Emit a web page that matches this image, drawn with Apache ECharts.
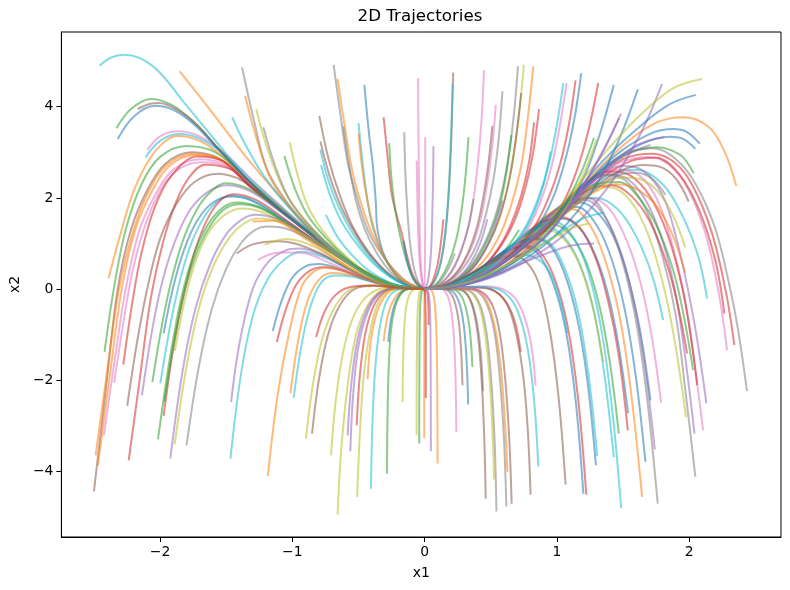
<!DOCTYPE html>
<html>
<head>
<meta charset="utf-8">
<title>2D Trajectories</title>
<script src="https://cdn.jsdelivr.net/npm/echarts@6/dist/echarts.min.js"></script>
<style>
html, body { margin: 0; padding: 0; background: #fff; }
#chart { width: 790px; height: 590px; }
</style>
</head>
<body>
<div id="chart"></div>
<script>
var xTicks = [-2, -1, 0, 1, 2];
var yTicks = [-4, -2, 0, 2, 4];

var leftArcs = [
  [-2.50,-4.44,-2.41,-2.2,-2.32,0,-2.22,1.3,-2.1,2.15,-1.96,2.75,-1.76,3.0,-1.55,2.86,-1.34,2.3,-1.1,1.75,-0.86,1.2,-0.55,0.55,-0.27,0.12,0,0],
  [-2.487,-3.65,-2.4,-1.8,-2.31,0,-2.2,1.3,-2.09,2.12,-1.95,2.72,-1.75,2.97,-1.54,2.83,-1.33,2.28,-1.09,1.73,-0.85,1.18,-0.55,0.54,-0.27,0.12,0,0],
  [-2.47,-3.87,-2.38,-1.9,-2.29,0,-2.19,1.28,-2.07,2.1,-1.93,2.7,-1.73,2.94,-1.52,2.8,-1.32,2.26,-1.08,1.71,-0.84,1.17,-0.55,0.54,-0.27,0.12,0,0],
  [-2.425,-3.21,-2.34,-1.5,-2.26,0,-2.16,1.25,-2.04,2.05,-1.9,2.62,-1.7,2.85,-1.5,2.72,-1.3,2.2,-1.07,1.67,-0.84,1.15,-0.55,0.53,-0.27,0.12,0,0],
  [-2.42,-1.38,-2.35,0,-2.26,1.3,-2.14,2.3,-2.0,2.9,-1.8,3.14,-1.58,3.0,-1.36,2.45,-1.12,1.85,-0.87,1.25,-0.56,0.57,-0.28,0.13,0,0],
  [-2.347,-2.06,-2.27,-0.6,-2.2,0.5,-2.1,1.5,-1.98,2.25,-1.85,2.65,-1.68,2.78,-1.48,2.66,-1.28,2.16,-1.06,1.64,-0.83,1.13,-0.54,0.52,-0.27,0.12,0,0],
  [-2.278,-1.66,-2.21,-0.3,-2.14,0.8,-2.04,1.8,-1.91,2.5,-1.72,2.91,-1.52,2.8,-1.32,2.25,-1.08,1.7,-0.85,1.17,-0.55,0.54,-0.27,0.12,0,0],
  [-2.237,-3.76,-2.15,-1.9,-2.07,-0.2,-1.98,1.0,-1.88,1.9,-1.78,2.45,-1.66,2.73,-1.46,2.62,-1.26,2.12,-1.04,1.6,-0.82,1.1,-0.54,0.5,-0.27,0.11,0,0],
  [-2.248,-2.56,-2.17,-1.1,-2.09,0.1,-2.0,1.1,-1.88,1.85,-1.74,2.35,-1.56,2.53,-1.38,2.38,-1.15,1.9,-0.9,1.3,-0.6,0.62,-0.3,0.14,0,0],
  [-2.137,-2.33,-2.06,-0.9,-1.98,0.2,-1.88,1.1,-1.77,1.75,-1.63,2.15,-1.49,2.28,-1.32,2.15,-1.1,1.72,-0.86,1.2,-0.57,0.57,-0.28,0.13,0,0],
  [-2.058,-2.04,-1.98,-0.7,-1.9,0.35,-1.81,1.2,-1.7,1.85,-1.6,2.18,-1.51,2.32,-1.33,2.2,-1.1,1.75,-0.87,1.22,-0.57,0.57,-0.28,0.13,0,0],
  [-1.998,-2.07,-1.92,-0.75,-1.84,0.3,-1.75,1.1,-1.64,1.7,-1.54,1.98,-1.45,2.05,-1.28,1.92,-1.05,1.5,-0.8,1.0,-0.52,0.47,-0.26,0.11,0,0],
  [-1.973,-0.97,-1.9,0.05,-1.82,0.85,-1.72,1.5,-1.6,1.9,-1.46,2.03,-1.3,1.93,-1.07,1.52,-0.81,1.02,-0.53,0.48,-0.26,0.11,0,0],
  [-1.973,-2.78,-1.9,-1.3,-1.82,-0.1,-1.73,0.9,-1.63,1.6,-1.53,1.98,-1.44,2.08,-1.27,1.95,-1.05,1.52,-0.8,1.0,-0.52,0.47,-0.26,0.11,0,0],
  [-2.016,-3.30,-1.93,-1.6,-1.84,-0.2,-1.74,0.8,-1.63,1.45,-1.52,1.8,-1.42,1.9,-1.25,1.8,-1.03,1.42,-0.79,0.95,-0.51,0.45,-0.25,0.1,0,0],
  [-1.968,-2.48,-1.89,-1.1,-1.81,0.0,-1.71,0.9,-1.6,1.48,-1.5,1.78,-1.4,1.86,-1.23,1.76,-1.02,1.4,-0.78,0.94,-0.5,0.44,-0.25,0.1,0,0],
  [-1.888,-1.36,-1.81,-0.2,-1.72,0.7,-1.62,1.3,-1.5,1.65,-1.38,1.77,-1.22,1.68,-1.0,1.34,-0.76,0.9,-0.49,0.42,-0.24,0.1,0,0],
  [-1.923,-3.72,-1.83,-1.8,-1.73,-0.4,-1.62,0.55,-1.5,1.2,-1.38,1.53,-1.28,1.63,-1.12,1.54,-0.92,1.22,-0.7,0.82,-0.45,0.37,-0.22,0.08,0,0],
  [-1.89,-3.41,-1.8,-1.7,-1.7,-0.35,-1.59,0.55,-1.47,1.15,-1.36,1.45,-1.26,1.55,-1.1,1.48,-0.91,1.18,-0.69,0.8,-0.45,0.36,-0.22,0.08,0,0],
  [-1.80,-3.43,-1.71,-1.75,-1.61,-0.45,-1.5,0.45,-1.39,1.0,-1.28,1.3,-1.18,1.37,-1.02,1.3,-0.83,1.02,-0.62,0.67,-0.4,0.3,-0.2,0.07,0,0],
  [-2.39,0.23,-2.3,1.2,-2.2,2.15,-2.08,2.85,-1.96,3.25,-1.865,3.36,-1.7,3.25,-1.5,2.85,-1.3,2.3,-1.06,1.72,-0.84,1.18,-0.55,0.55,-0.27,0.12,0,0],
  [-2.097,3.05,-2.0,3.35,-1.865,3.46,-1.7,3.35,-1.5,2.95,-1.3,2.38,-1.07,1.78,-0.84,1.2,-0.55,0.56,-0.27,0.13,0,0],
  [-2.11,2.89,-2.0,3.25,-1.86,3.4,-1.7,3.3,-1.5,2.92,-1.3,2.36,-1.07,1.76,-0.84,1.19,-0.55,0.55,-0.27,0.12,0,0],
  [-2.457,4.90,-2.37,5.08,-2.27,5.14,-2.05,4.88,-1.815,4.08,-1.58,3.25,-1.337,2.4,-1.1,1.75,-0.86,1.22,-0.55,0.56,-0.27,0.13,0,0],
  [-2.33,3.53,-2.22,3.95,-2.07,4.17,-1.92,4.05,-1.75,3.68,-1.55,3.05,-1.34,2.4,-1.1,1.76,-0.86,1.22,-0.55,0.56,-0.27,0.13,0,0],
  [-2.17,3.95,-2.08,4.06,-2.01,4.08,-1.88,3.95,-1.72,3.6,-1.54,3.02,-1.33,2.38,-1.1,1.76,-0.86,1.22,-0.55,0.56,-0.27,0.13,0,0],
  [-2.32,3.29,-2.2,3.78,-2.04,4.02,-1.9,3.93,-1.73,3.58,-1.54,3.0,-1.33,2.37,-1.1,1.75,-0.86,1.21,-0.55,0.55,-0.27,0.12,0,0]
];
var leftArcColors = 'nookgkrrnpgcbrggypyaokccgnb';

var midLeft = [
  [-1.463,-2.48,-1.4,-1.2,-1.3,0.0,-1.18,0.6,-1.05,0.85,-0.95,0.89,-0.8,0.78,-0.6,0.48,-0.4,0.2,-0.2,0.05,0,0],
  [-1.468,-3.72,-1.39,-1.9,-1.3,-0.6,-1.19,0.2,-1.06,0.65,-0.93,0.82,-0.78,0.72,-0.58,0.45,-0.38,0.18,-0.19,0.04,0,0],
  [-1.148,-0.92,-1.08,-0.25,-1.0,0.25,-0.9,0.5,-0.8,0.55,-0.65,0.45,-0.45,0.22,-0.22,0.05,0,0],
  [-1.117,-1.16,-1.05,-0.45,-0.97,0.1,-0.87,0.4,-0.77,0.48,-0.62,0.4,-0.43,0.2,-0.21,0.05,0,0],
  [-1.185,-4.10,-1.11,-2.3,-1.02,-0.9,-0.93,0.05,-0.83,0.4,-0.72,0.48,-0.58,0.38,-0.4,0.18,-0.2,0.04,0,0],
  [-1.015,-2.29,-0.96,-1.2,-0.89,-0.3,-0.8,0.2,-0.7,0.35,-0.55,0.3,-0.38,0.15,-0.19,0.04,0,0],
  [-0.99,-2.39,-0.935,-1.3,-0.865,-0.4,-0.78,0.15,-0.68,0.3,-0.54,0.27,-0.37,0.13,-0.18,0.03,0,0],
  [-1.26,0.64,-1.1,0.8,-0.95,0.8,-0.7,0.55,-0.4,0.18,-0.2,0.04,0,0],
  [-1.42,0.78,-1.3,0.98,-1.1,1.05,-0.8,0.8,-0.45,0.25,-0.22,0.05,0,0],
  [-1.21,0.97,-1.05,1.1,-0.85,0.95,-0.5,0.35,-0.25,0.07,0,0],
  [-1.3,1.48,-1.15,1.5,-0.9,1.1,-0.55,0.45,-0.27,0.1,0,0]
];
var midLeftColors = 'pcbroocknyo';

var topLeft = [
  [-1.853,4.78,-1.6,3.85,-1.35,2.9,-1.1,2.05,-0.85,1.3,-0.5,0.45,-0.25,0.1,0,0],
  [-1.38,4.86,-1.29,3.7,-1.19,2.62,-1.0,1.75,-0.78,1.05,-0.5,0.42,-0.25,0.09,0,0],
  [-1.357,4.24,-1.27,3.3,-1.16,2.4,-0.98,1.65,-0.76,1.0,-0.5,0.42,-0.25,0.09,0,0],
  [-1.274,3.95,-1.18,3.0,-1.06,2.15,-0.9,1.5,-0.7,0.9,-0.45,0.35,-0.22,0.07,0,0],
  [-1.219,3.55,-1.13,2.7,-1.02,1.95,-0.86,1.35,-0.66,0.8,-0.42,0.3,-0.2,0.06,0,0],
  [-1.455,3.77,-1.37,3.25,-1.22,2.5,-1.0,1.7,-0.75,1.0,-0.48,0.38,-0.24,0.08,0,0],
  [-1.02,3.22,-0.96,2.5,-0.88,1.8,-0.75,1.2,-0.58,0.68,-0.38,0.26,-0.18,0.05,0,0],
  [-1.06,2.92,-0.98,2.2,-0.88,1.6,-0.74,1.1,-0.56,0.6,-0.36,0.22,-0.18,0.05,0,0]
];
var topLeftColors = 'oaoyacyg';

var centerTop = [
  [-0.688,4.92,-0.635,3.8,-0.58,2.76,-0.5,1.9,-0.43,1.3,-0.33,0.78,-0.23,0.42,-0.12,0.13,0,0],
  [-0.658,4.61,-0.6,3.5,-0.54,2.5,-0.46,1.7,-0.38,1.1,-0.27,0.55,-0.15,0.18,0,0],
  [-0.796,3.80,-0.73,2.9,-0.64,2.05,-0.54,1.35,-0.42,0.8,-0.28,0.35,-0.14,0.09,0,0],
  [-0.788,3.24,-0.72,2.5,-0.63,1.8,-0.52,1.2,-0.4,0.7,-0.26,0.3,-0.13,0.08,0,0],
  [-0.788,3.06,-0.73,2.4,-0.65,1.8,-0.55,1.25,-0.42,0.72,-0.27,0.3,-0.13,0.08,0,0],
  [-0.783,2.72,-0.72,2.1,-0.64,1.55,-0.53,1.05,-0.4,0.6,-0.26,0.26,-0.12,0.06,0,0],
  [-0.614,3.57,-0.57,2.7,-0.52,1.95,-0.45,1.3,-0.36,0.78,-0.25,0.35,-0.12,0.08,0,0],
  [-0.456,4.48,-0.42,3.4,-0.393,2.76,-0.37,1.95,-0.356,1.3,-0.3,0.7,-0.2,0.25,-0.1,0.05,0,0],
  [-0.5,3.64,-0.47,2.8,-0.44,2.1,-0.4,1.45,-0.33,0.85,-0.23,0.35,-0.11,0.08,0,0],
  [-0.5,3.41,-0.47,2.6,-0.43,1.9,-0.38,1.3,-0.31,0.75,-0.22,0.32,-0.1,0.07,0,0],
  [-0.31,3.77,-0.28,2.9,-0.25,2.1,-0.21,1.6,-0.18,1.3,-0.13,0.7,-0.08,0.25,0,0],
  [-0.268,3.20,-0.25,2.4,-0.22,1.7,-0.18,1.1,-0.13,0.55,-0.07,0.15,0,0],
  [-0.154,3.44,-0.145,2.5,-0.13,1.7,-0.11,1.0,-0.08,0.45,-0.04,0.1,0,0],
  [-0.159,1.06,-0.13,0.6,-0.09,0.25,-0.04,0.05,0,0],
  [-0.049,4.63,-0.047,3.5,-0.043,2.4,-0.038,1.4,-0.03,0.6,-0.015,0.12,0,0],
  [-0.06,2.82,-0.055,2.0,-0.048,1.2,-0.035,0.5,-0.015,0.1,0,0],
  [0.005,3.33,0.004,2.0,0.003,0.8,0,0],
  [0.067,3.14,0.063,2.3,0.057,1.5,0.048,0.8,0.032,0.3,0.015,0.06,0,0],
  [0.216,4.75,0.205,3.6,0.19,2.5,0.17,1.6,0.14,0.85,0.1,0.35,0.05,0.07,0,0],
  [0.212,4.50,0.2,3.4,0.186,2.4,0.165,1.5,0.135,0.8,0.095,0.32,0.045,0.06,0,0],
  [0.142,1.53,0.12,0.95,0.095,0.5,0.06,0.17,0.03,0.03,0,0],
  [0.228,0.78,0.18,0.45,0.12,0.18,0.06,0.04,0,0],
  [0.331,3.33,0.31,2.5,0.28,1.75,0.24,1.1,0.18,0.55,0.11,0.18,0.05,0.03,0,0],
  [0.449,4.80,0.43,3.7,0.4,2.7,0.36,1.8,0.3,1.05,0.22,0.45,0.12,0.12,0,0],
  [0.369,1.98,0.33,1.35,0.27,0.8,0.2,0.38,0.11,0.1,0,0],
  [0.538,4.04,0.51,3.1,0.47,2.25,0.42,1.5,0.35,0.88,0.25,0.38,0.13,0.09,0,0],
  [0.512,3.58,0.48,2.7,0.44,1.95,0.39,1.3,0.32,0.75,0.23,0.32,0.12,0.08,0,0],
  [0.588,4.34,0.56,3.3,0.52,2.4,0.46,1.6,0.39,0.95,0.28,0.42,0.15,0.1,0,0],
  [0.706,4.89,0.67,3.7,0.62,2.65,0.55,1.75,0.46,1.05,0.34,0.48,0.18,0.12,0,0],
  [0.751,4.92,0.71,3.75,0.66,2.7,0.59,1.8,0.5,1.08,0.37,0.5,0.2,0.13,0,0],
  [0.73,4.30,0.69,3.3,0.64,2.4,0.57,1.6,0.48,0.98,0.36,0.45,0.19,0.11,0,0],
  [0.822,4.89,0.78,3.75,0.73,2.7,0.65,1.8,0.55,1.08,0.41,0.5,0.22,0.13,0,0],
  [0.656,3.38,0.62,2.6,0.57,1.85,0.5,1.25,0.41,0.72,0.3,0.32,0.16,0.08,0,0],
  [0.865,3.95,0.82,3.0,0.76,2.2,0.68,1.5,0.57,0.92,0.42,0.42,0.22,0.1,0,0],
  [0.827,3.66,0.79,2.8,0.73,2.05,0.65,1.4,0.55,0.86,0.41,0.4,0.22,0.1,0,0],
  [0.588,1.94,0.52,1.3,0.44,0.78,0.34,0.38,0.2,0.1,0,0],
  [0.474,1.53,0.42,1.0,0.35,0.58,0.26,0.26,0.14,0.06,0,0],
  [0.714,1.30,0.62,0.9,0.5,0.55,0.36,0.26,0.2,0.07,0,0],
  [0.952,3.02,0.9,2.3,0.83,1.7,0.74,1.2,0.62,0.75,0.45,0.35,0.24,0.09,0,0],
  [-0.746,1.626,-0.66,1.15,-0.55,0.75,-0.42,0.4,-0.26,0.14,-0.12,0.03,0,0]
];
var centerTopColors = 'aonnccabcorgabkkkpncragkaknaaynogrrppgcc';

var centerBottom = [
  [-0.658,-4.95,-0.632,-3.58,-0.582,-2.11,-0.519,-1.01,-0.43,-0.35,-0.31,-0.02,-0.15,0.02,0,0],
  [-0.708,-3.65,-0.67,-2.4,-0.61,-1.3,-0.53,-0.55,-0.42,-0.12,-0.28,0.03,-0.14,0.02,0,0],
  [-0.582,-3.21,-0.555,-2.1,-0.51,-1.15,-0.44,-0.48,-0.35,-0.1,-0.22,0.02,-0.1,0.01,0,0],
  [-0.562,-3.56,-0.54,-2.3,-0.5,-1.25,-0.43,-0.5,-0.34,-0.1,-0.21,0.02,-0.1,0.01,0,0],
  [-0.514,-2.99,-0.49,-1.9,-0.45,-1.0,-0.39,-0.4,-0.31,-0.08,-0.2,0.02,-0.1,0.01,0,0],
  [-0.431,-1.98,-0.41,-1.2,-0.37,-0.6,-0.31,-0.2,-0.23,0.0,-0.12,0.02,0,0],
  [-0.51,-4.56,-0.49,-3.2,-0.46,-1.9,-0.41,-0.9,-0.35,-0.3,-0.26,-0.02,-0.13,0.02,0,0],
  [-0.406,-4.38,-0.395,-3.0,-0.375,-1.8,-0.34,-0.85,-0.29,-0.28,-0.21,-0.02,-0.1,0.01,0,0],
  [-0.31,-1.14,-0.28,-0.6,-0.23,-0.22,-0.16,-0.02,-0.08,0.01,0,0],
  [-0.275,-1.16,-0.25,-0.6,-0.21,-0.22,-0.15,-0.02,-0.07,0.01,0,0],
  [-0.285,-4.05,-0.28,-2.7,-0.27,-1.6,-0.25,-0.8,-0.21,-0.28,-0.15,-0.03,-0.07,0.01,0,0],
  [-0.167,-2.48,-0.163,-1.6,-0.155,-0.9,-0.14,-0.4,-0.11,-0.1,-0.06,0.0,0,0],
  [-0.061,-3.21,-0.06,-2.0,-0.057,-1.0,-0.05,-0.35,-0.035,-0.06,0,0],
  [-0.041,-3.39,-0.04,-2.0,-0.038,-1.0,-0.033,-0.35,-0.02,-0.05,0,0],
  [-0.003,-3.27,-0.003,-1.6,-0.002,-0.4,0,0],
  [0.009,-2.39,0.009,-1.2,0.006,-0.3,0,0],
  [0.03,-0.79,0.028,-0.35,0.02,-0.08,0,0],
  [0.047,-3.56,0.046,-2.0,0.044,-0.9,0.038,-0.3,0.025,-0.05,0,0],
  [0.098,-3.83,0.096,-2.4,0.092,-1.3,0.082,-0.5,0.065,-0.12,0.035,0.0,0,0],
  [0.24,-3.14,0.234,-2.0,0.222,-1.1,0.2,-0.45,0.165,-0.1,0.11,0.01,0.05,0.01,0,0],
  [0.286,-2.11,0.275,-1.3,0.255,-0.65,0.22,-0.22,0.17,-0.02,0.09,0.01,0,0],
  [0.329,-2.53,0.318,-1.6,0.298,-0.85,0.265,-0.33,0.21,-0.05,0.12,0.01,0,0],
  [0.361,-1.71,0.345,-1.0,0.315,-0.45,0.27,-0.12,0.2,0.0,0.1,0.01,0,0],
  [0.442,-2.24,0.425,-1.4,0.395,-0.72,0.35,-0.26,0.28,-0.03,0.15,0.02,0,0],
  [0.462,-4.60,0.45,-3.2,0.43,-1.95,0.4,-0.95,0.355,-0.32,0.29,-0.03,0.15,0.02,0,0],
  [0.543,-4.88,0.53,-3.4,0.505,-2.05,0.47,-1.0,0.42,-0.35,0.34,-0.04,0.18,0.02,0,0],
  [0.525,-4.18,0.51,-2.9,0.485,-1.75,0.45,-0.85,0.4,-0.28,0.32,-0.02,0.17,0.02,0,0],
  [0.618,-4.77,0.6,-3.3,0.57,-2.0,0.53,-0.98,0.47,-0.33,0.38,-0.03,0.2,0.03,0,0],
  [0.626,-4.01,0.605,-2.8,0.575,-1.7,0.53,-0.82,0.47,-0.26,0.38,0.0,0.2,0.03,0,0],
  [0.658,-4.71,0.64,-3.3,0.61,-2.0,0.57,-1.0,0.51,-0.34,0.41,-0.03,0.21,0.03,0,0],
  [0.726,-1.38,0.69,-0.8,0.63,-0.35,0.55,-0.08,0.44,0.04,0.24,0.04,0,0],
  [0.801,-4.51,0.78,-3.1,0.745,-1.9,0.69,-0.95,0.62,-0.32,0.5,-0.01,0.27,0.05,0,0],
  [0.839,-2.12,0.81,-1.3,0.76,-0.66,0.69,-0.22,0.59,0.0,0.45,0.06,0.24,0.04,0,0],
  [0.859,-3.89,0.835,-2.7,0.795,-1.6,0.74,-0.8,0.66,-0.25,0.53,0.02,0.28,0.05,0,0],
  [0.512,-0.35,0.45,-0.12,0.36,0.0,0.2,0.03,0,0],
  [-0.851,-3.17,-0.8,-2.0,-0.73,-1.0,-0.64,-0.35,-0.53,0.0,-0.38,0.07,-0.19,0.03,0,0],
  [-0.897,-3.28,-0.845,-2.1,-0.775,-1.1,-0.68,-0.4,-0.57,-0.02,-0.42,0.08,-0.21,0.03,0,0],
  [-0.82,-1.05,-0.76,-0.52,-0.68,-0.15,-0.57,0.04,-0.4,0.08,-0.2,0.03,0,0]
];
var centerBottomColors = 'yypproycobgyygorrpoknbganayaonrnkcknyr';

var rightArcs = [
  [2.437,-2.24,2.37,-0.9,2.31,0,2.2,1.3,2.05,2.3,1.9,2.85,1.73,3.09,1.5,2.95,1.25,2.4,0.95,1.5,0.62,0.66,0.3,0.14,0,0],
  [2.341,-1.23,2.28,-0.1,2.17,1.25,2.02,2.3,1.88,2.8,1.72,2.97,1.5,2.85,1.25,2.3,0.95,1.45,0.62,0.64,0.3,0.14,0,0],
  [2.286,-1.34,2.23,-0.2,2.13,1.15,1.99,2.2,1.85,2.72,1.7,2.9,1.48,2.78,1.23,2.25,0.94,1.42,0.62,0.63,0.3,0.13,0,0],
  [2.266,-0.54,2.2,0.6,2.08,1.7,1.93,2.5,1.75,2.88,1.55,2.8,1.3,2.35,1.0,1.55,0.65,0.68,0.32,0.15,0,0],
  [2.034,2.54,1.95,2.9,1.85,3.06,1.758,3.11,1.55,2.98,1.3,2.5,1.0,1.6,0.65,0.7,0.32,0.15,0,0],
  [2.135,-0.21,2.07,0.7,1.95,1.6,1.8,2.3,1.6,2.62,1.4,2.5,1.15,2.0,0.9,1.3,0.6,0.6,0.3,0.13,0,0],
  [2.13,-2.51,2.06,-1.1,1.99,0,1.9,1.15,1.8,2.05,1.65,2.6,1.5,2.7,1.3,2.45,1.05,1.8,0.8,1.1,0.5,0.45,0.25,0.1,0,0],
  [2.105,-3.10,2.03,-1.4,1.96,-0.1,1.87,1.0,1.76,1.95,1.62,2.5,1.46,2.62,1.25,2.35,1.0,1.7,0.75,1.0,0.48,0.42,0.24,0.1,0,0],
  [2.06,-2.11,2.0,-0.8,1.93,0.25,1.83,1.25,1.7,2.05,1.55,2.5,1.4,2.58,1.2,2.3,0.97,1.65,0.72,0.97,0.46,0.4,0.23,0.09,0,0],
  [2.04,-3.17,1.97,-1.5,1.9,-0.15,1.81,0.95,1.69,1.85,1.55,2.38,1.4,2.52,1.2,2.25,0.97,1.62,0.72,0.95,0.46,0.4,0.23,0.09,0,0],
  [2.047,-4.12,1.97,-2.2,1.9,-0.6,1.8,0.7,1.68,1.7,1.53,2.35,1.38,2.5,1.18,2.2,0.95,1.58,0.7,0.92,0.45,0.38,0.22,0.09,0,0],
  [2.029,-1.78,1.96,-0.6,1.88,0.4,1.76,1.35,1.62,2.0,1.47,2.35,1.3,2.3,1.1,1.9,0.88,1.3,0.64,0.75,0.4,0.3,0.2,0.07,0,0],
  [1.984,-1.41,1.91,-0.3,1.82,0.65,1.7,1.5,1.56,2.05,1.42,2.28,1.25,2.2,1.05,1.8,0.84,1.22,0.62,0.7,0.38,0.28,0.19,0.06,0,0],
  [1.976,-2.81,1.9,-1.3,1.82,-0.1,1.72,0.95,1.6,1.75,1.45,2.2,1.3,2.25,1.1,1.95,0.88,1.35,0.64,0.77,0.4,0.3,0.2,0.07,0,0],
  [1.803,-0.68,1.72,0.3,1.6,1.15,1.46,1.75,1.3,2.0,1.12,1.9,0.92,1.5,0.7,0.95,0.45,0.4,0.22,0.09,0,0],
  [1.788,-2.49,1.72,-1.1,1.64,0.05,1.53,1.05,1.4,1.75,1.25,2.0,1.08,1.85,0.88,1.4,0.66,0.85,0.42,0.34,0.21,0.08,0,0],
  [1.707,-2.44,1.64,-1.1,1.56,0.0,1.46,0.95,1.33,1.6,1.18,1.9,1.02,1.78,0.84,1.35,0.63,0.82,0.4,0.32,0.2,0.07,0,0],
  [1.74,-3.52,1.67,-1.8,1.59,-0.4,1.49,0.75,1.37,1.55,1.22,1.95,1.05,1.85,0.86,1.4,0.64,0.84,0.41,0.33,0.2,0.07,0,0],
  [1.762,-4.71,1.69,-2.6,1.61,-0.9,1.51,0.45,1.39,1.45,1.24,2.0,1.07,1.9,0.87,1.45,0.65,0.86,0.42,0.34,0.21,0.08,0,0],
  [1.669,-3.79,1.6,-2.0,1.52,-0.55,1.42,0.6,1.3,1.4,1.15,1.8,0.99,1.72,0.81,1.3,0.61,0.78,0.39,0.31,0.19,0.07,0,0],
  [1.644,-4.56,1.57,-2.5,1.49,-0.85,1.39,0.4,1.27,1.3,1.12,1.75,0.96,1.68,0.79,1.27,0.6,0.76,0.38,0.3,0.19,0.07,0,0],
  [1.538,-2.73,1.47,-1.3,1.39,-0.15,1.29,0.75,1.17,1.35,1.03,1.55,0.88,1.42,0.71,1.05,0.52,0.6,0.33,0.24,0.16,0.05,0,0],
  [1.536,-3.10,1.47,-1.5,1.39,-0.3,1.29,0.7,1.17,1.35,1.03,1.58,0.88,1.45,0.71,1.08,0.52,0.62,0.33,0.25,0.16,0.05,0,0],
  [1.468,-3.17,1.4,-1.6,1.32,-0.35,1.22,0.6,1.1,1.2,0.96,1.42,0.82,1.3,0.66,0.95,0.48,0.55,0.3,0.22,0.15,0.05,0,0],
  [1.486,-4.81,1.42,-2.7,1.34,-0.95,1.24,0.35,1.12,1.15,0.98,1.48,0.83,1.36,0.67,1.0,0.49,0.57,0.31,0.22,0.15,0.05,0,0],
  [1.43,-3.69,1.36,-1.9,1.28,-0.5,1.18,0.5,1.06,1.12,0.93,1.35,0.79,1.25,0.64,0.92,0.47,0.53,0.3,0.21,0.15,0.05,0,0],
  [1.35,-1.60,1.28,-0.5,1.19,0.4,1.08,1.0,0.95,1.28,0.8,1.2,0.64,0.9,0.46,0.52,0.29,0.2,0.14,0.05,0,0],
  [1.305,-3.66,1.24,-1.9,1.16,-0.5,1.06,0.45,0.95,1.0,0.83,1.12,0.7,1.0,0.56,0.74,0.41,0.42,0.26,0.17,0.13,0.04,0,0],
  [1.295,-3.87,1.23,-2.0,1.15,-0.6,1.05,0.4,0.94,0.98,0.82,1.1,0.69,0.99,0.55,0.73,0.4,0.41,0.25,0.16,0.12,0.04,0,0],
  [1.222,-4.51,1.16,-2.4,1.08,-0.8,0.98,0.25,0.87,0.82,0.76,0.95,0.64,0.86,0.51,0.63,0.37,0.36,0.23,0.14,0.11,0.03,0,0],
  [1.2,-4.49,1.14,-2.4,1.06,-0.8,0.96,0.22,0.85,0.8,0.74,0.92,0.62,0.84,0.5,0.62,0.36,0.35,0.22,0.13,0.11,0.03,0,0],
  [1.066,-4.29,1.01,-2.3,0.94,-0.8,0.86,0.15,0.76,0.62,0.66,0.72,0.55,0.65,0.43,0.47,0.3,0.26,0.18,0.1,0.09,0.02,0,0],
  [1.079,-0.97,1.02,-0.2,0.94,0.4,0.84,0.68,0.72,0.75,0.58,0.62,0.42,0.4,0.27,0.18,0.13,0.04,0,0],
  [1.97,0.92,1.88,1.6,1.76,2.15,1.62,2.42,1.48,2.45,1.3,2.2,1.05,1.65,0.8,1.05,0.52,0.45,0.26,0.1,0,0],
  [1.97,0.35,1.88,1.15,1.76,1.8,1.6,2.2,1.45,2.3,1.28,2.12,1.04,1.6,0.8,1.02,0.52,0.44,0.26,0.1,0,0],
  [1.82,2.07,1.72,2.42,1.6,2.55,1.45,2.48,1.25,2.1,1.0,1.5,0.72,0.85,0.45,0.35,0.22,0.08,0,0],
  [1.996,1.92,1.9,2.42,1.78,2.68,1.65,2.72,1.45,2.55,1.2,2.05,0.95,1.4,0.65,0.7,0.33,0.16,0,0],
  [2.356,2.26,2.27,3.0,2.15,3.55,1.958,3.77,1.75,3.65,1.5,3.15,1.22,2.35,0.95,1.5,0.62,0.65,0.3,0.14,0,0],
  [2.08,3.19,1.98,3.45,1.88,3.51,1.7,3.4,1.45,2.95,1.2,2.25,0.93,1.45,0.6,0.62,0.3,0.14,0,0],
  [2.046,3.08,1.95,3.3,1.85,3.34,1.65,3.2,1.42,2.8,1.18,2.15,0.92,1.4,0.6,0.6,0.3,0.14,0,0]
];
var rightArcColors = 'arkrgcpkrpagryckbpabobrgccycbrbncyoanobb';

var rightTop = [
  [1.048,4.52,1.0,3.6,0.94,2.75,0.86,2.0,0.76,1.35,0.62,0.8,0.44,0.35,0.23,0.09,0,0],
  [1.073,4.52,1.02,3.55,0.96,2.7,0.88,1.95,0.78,1.32,0.63,0.78,0.45,0.34,0.23,0.09,0,0],
  [1.141,4.58,1.09,3.6,1.02,2.7,0.93,1.95,0.82,1.32,0.66,0.78,0.47,0.34,0.24,0.09,0,0],
  [1.184,4.74,1.13,3.7,1.06,2.8,0.97,2.0,0.85,1.35,0.68,0.8,0.48,0.35,0.25,0.09,0,0],
  [1.312,4.52,1.24,3.5,1.15,2.6,1.04,1.85,0.9,1.25,0.72,0.76,0.5,0.33,0.26,0.08,0,0],
  [1.43,4.48,1.33,3.45,1.22,2.55,1.09,1.82,0.94,1.22,0.75,0.74,0.52,0.32,0.27,0.08,0,0],
  [1.612,4.38,1.48,3.35,1.33,2.45,1.16,1.72,0.98,1.15,0.78,0.7,0.54,0.31,0.28,0.08,0,0],
  [1.795,4.50,1.64,3.45,1.45,2.5,1.25,1.75,1.04,1.15,0.81,0.69,0.55,0.3,0.28,0.08,0,0],
  [2.097,4.61,1.88,4.41,1.63,3.82,1.38,3.05,1.13,2.18,0.88,1.3,0.55,0.5,0.27,0.11,0,0],
  [2.05,4.26,1.85,4.05,1.6,3.5,1.36,2.85,1.12,2.05,0.87,1.25,0.55,0.48,0.27,0.11,0,0],
  [1.81,3.33,1.6,3.15,1.38,2.65,1.15,2.0,0.9,1.32,0.6,0.6,0.3,0.13,0,0],
  [1.707,3.16,1.5,2.92,1.3,2.45,1.08,1.85,0.86,1.25,0.58,0.57,0.29,0.12,0,0],
  [1.28,3.32,1.19,2.6,1.08,1.95,0.95,1.38,0.8,0.9,0.6,0.48,0.38,0.18,0.19,0.04,0,0],
  [1.3,3.28,1.21,2.58,1.1,1.93,0.97,1.37,0.81,0.9,0.61,0.48,0.38,0.18,0.19,0.04,0,0],
  [1.485,3.85,1.36,3.1,1.22,2.38,1.07,1.72,0.9,1.12,0.69,0.62,0.45,0.24,0.22,0.05,0,0],
  [1.47,3.75,1.35,3.02,1.21,2.32,1.06,1.68,0.89,1.1,0.68,0.61,0.44,0.23,0.22,0.05,0,0],
  [1.355,1.68,1.2,1.55,1.0,1.2,0.75,0.72,0.45,0.27,0.22,0.06,0,0],
  [1.24,1.44,1.1,1.32,0.9,1.0,0.65,0.58,0.38,0.2,0.19,0.05,0,0],
  [1.28,1.0,1.1,0.95,0.85,0.7,0.55,0.33,0.28,0.08,0,0]
];
var rightTopColors = 'ckrbrbbpybppgyppcyp';

var palette = {
  b: '#1f77b4', o: '#ff7f0e', g: '#2ca02c', r: '#d62728', p: '#9467bd',
  n: '#8c564b', k: '#e377c2', a: '#7f7f7f', y: '#bcbd22', c: '#17becf'
};

var groups = [
  [leftArcs, leftArcColors],
  [midLeft, midLeftColors],
  [topLeft, topLeftColors],
  [centerTop, centerTopColors],
  [centerBottom, centerBottomColors],
  [rightArcs, rightArcColors],
  [rightTop, rightTopColors]
];

var series = [];
groups.forEach(function (grp) {
  grp[0].forEach(function (flat, i) {
    var pts = [];
    for (var j = 0; j < flat.length; j += 2) pts.push([flat[j], flat[j + 1]]);
    series.push({
      type: 'line',
      data: pts,
      smooth: 0.35,
      symbol: 'none',
      showSymbol: false,
      silent: true,
      lineStyle: { color: palette[grp[1].charAt(i)], width: 2, opacity: 0.55 }
    });
  });
});

function tickFmt(v) {
  return v < 0 ? '\u2212' + Math.abs(v) : String(v);
}

var font = 'DejaVu Sans';
var chart = echarts.init(document.getElementById('chart'));
chart.setOption({
  animation: false,
  backgroundColor: '#fff',
  graphic: [{
    type: 'text',
    x: 420,
    y: 17,
    style: {
      text: '2D Trajectories',
      font: '16.7px "DejaVu Sans"',
      fill: '#000',
      textAlign: 'center',
      textVerticalAlign: 'middle'
    }
  }],
  grid: {
    left: 60, right: 9, top: 32, bottom: 53,
    show: true, borderColor: '#000', borderWidth: 1, containLabel: false
  },
  xAxis: {
    type: 'value',
    min: -2.746,
    max: 2.694,
    name: 'x1',
    nameLocation: 'middle',
    nameGap: 29,
    nameTextStyle: { fontFamily: font, fontSize: 13.9, color: '#000' },
    axisLine: { show: true, onZero: false, lineStyle: { color: '#000', width: 1 } },
    axisTick: { show: true, customValues: xTicks, length: 5, lineStyle: { color: '#000', width: 1 } },
    axisLabel: { customValues: xTicks, formatter: tickFmt, margin: 8, fontFamily: font, fontSize: 13.9, color: '#000' },
    splitLine: { show: false }
  },
  yAxis: {
    type: 'value',
    min: -5.44,
    max: 5.64,
    name: 'x2',
    nameLocation: 'middle',
    nameRotate: 90,
    nameGap: 37,
    nameTextStyle: { fontFamily: font, fontSize: 13.9, color: '#000' },
    axisLine: { show: true, onZero: false, lineStyle: { color: '#000', width: 1 } },
    axisTick: { show: true, customValues: yTicks, length: 5, lineStyle: { color: '#000', width: 1 } },
    axisLabel: { customValues: yTicks, formatter: tickFmt, margin: 8, fontFamily: font, fontSize: 13.9, color: '#000' },
    splitLine: { show: false }
  },
  series: series
});
</script>
</body>
</html>
